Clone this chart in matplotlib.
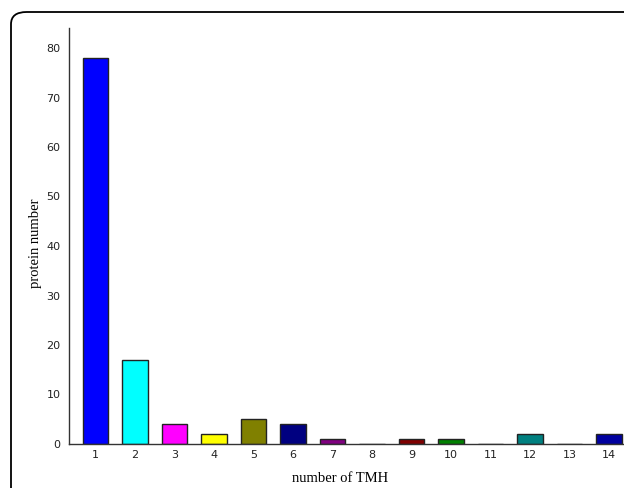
import matplotlib.pyplot as plt
from matplotlib.patches import FancyBboxPatch

# data
tmh = [1, 2, 3, 4, 5, 6, 7, 8, 9, 10, 11, 12, 13, 14]
proteins = [78, 17, 4, 2, 5, 4, 1, 0, 1, 1, 0, 2, 0, 2]
bar_colors = ['#0000FF', '#00FFFF', '#FF00FF', '#FFFF00', '#808000', '#000080', '#800080',
              '#808080', '#800000', '#008000', '#808080', '#008080', '#808080', '#0000A0']
y_ticks = [0, 10, 20, 30, 40, 50, 60, 70, 80]

W, H = 624, 488
fig = plt.figure(figsize=(W / 100, H / 100), dpi=100, facecolor='white')

# rounded outer frame, running off the right and bottom edges
frame = FancyBboxPatch((11 / W, -0.2), 1.2, (H - 12) / H + 0.2,
                       boxstyle='round,pad=0,rounding_size=0.025',
                       transform=fig.transFigure, facecolor='none',
                       edgecolor='black', linewidth=1.3)
fig.patches.append(frame)

ax = fig.add_axes([69 / W, 44 / H, (W - 69) / W, 416 / H])
ax.set_facecolor('none')

ax.bar(tmh, proteins, width=0.65, color=bar_colors, edgecolor='#222222', linewidth=1.0)

ax.set_xlim(0.33, 0.33 + (W - 69) / 39.5)
ax.set_ylim(0, 416 / 4.95)

for side in ['top', 'right']:
    ax.spines[side].set_visible(False)
for side in ['left', 'bottom']:
    ax.spines[side].set_color('#333333')
    ax.spines[side].set_linewidth(1.0)

tick_font = ['Liberation Sans Narrow', 'DejaVu Sans']
ax.set_xticks(tmh)
ax.set_xticklabels([str(t) for t in tmh], fontsize=8, family=tick_font)
ax.set_yticks(y_ticks)
ax.set_yticklabels([str(v) for v in y_ticks], fontsize=8, family=tick_font)
ax.tick_params(axis='both', length=0, colors='#222222')
ax.tick_params(axis='x', pad=4)
ax.tick_params(axis='y', pad=6)

fig.text(340 / W, 1 - 478 / H, 'number of TMH', ha='center', va='center',
         fontsize=10.5, family='Liberation Serif')
fig.text(36 / W, 1 - 243 / H, 'protein number', ha='center', va='center',
         rotation=90, fontsize=10.5, family='Liberation Serif')

fig.savefig('out.png', dpi=100)
